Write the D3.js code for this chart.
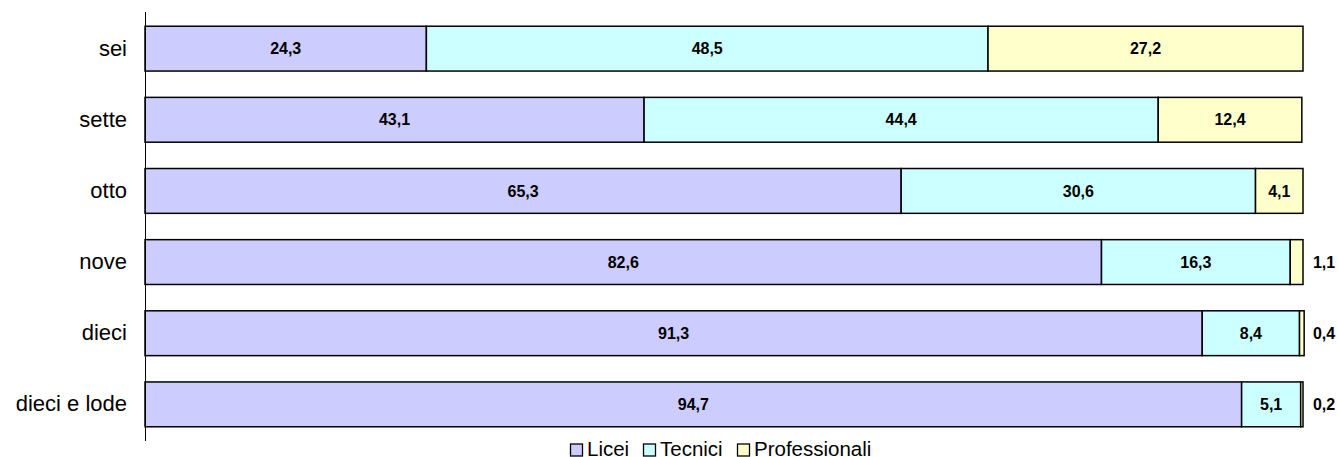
<!DOCTYPE html>
<html>
<head>
<meta charset="utf-8">
<script src="https://cdn.jsdelivr.net/npm/d3@7"></script>
<style>
  html, body { margin: 0; padding: 0; background: #fff; overflow: hidden; }
  svg { display: block; font-family: Arial, "Liberation Sans", sans-serif; }
</style>
</head>
<body>
<svg id="chart" width="1338" height="457"></svg>
<script>
// Voto all'esame: distribuzione per tipo di scuola (%)
const categories = ["sei", "sette", "otto", "nove", "dieci", "dieci e lode"];
const seriesNames = ["Licei", "Tecnici", "Professionali"];
const licei = [24.3, 43.1, 65.3, 82.6, 91.3, 94.7];
const tecnici = [48.5, 44.4, 30.6, 16.3, 8.4, 5.1];
const professionali = [27.2, 12.4, 4.1, 1.1, 0.4, 0.2];
const colors = ["#CCCCFF", "#CCFFFF", "#FFFFCC"];

const rows = categories.map((c, i) => ({
  cat: c, Licei: licei[i], Tecnici: tecnici[i], Professionali: professionali[i]
}));

const svg = d3.select("#chart");
const plotLeft = 145, plotRight = 1303, plotTop = 12, plotBottom = 441;

const x = d3.scaleLinear().domain([0, 100]).range([plotLeft, plotRight]);
const y = d3.scaleBand().domain(categories).range([plotTop, plotBottom]).paddingInner(0.37).paddingOuter(0.2);
const color = d3.scaleOrdinal().domain(seriesNames).range(colors);

const stacked = d3.stack().keys(seriesNames)(rows);
const fmt = v => d3.format(".1f")(v).replace(".", ",");

const layers = svg.append("g").selectAll("g")
  .data(stacked).join("g")
  .attr("fill", d => color(d.key));

layers.selectAll("rect")
  .data(d => d.map(p => ({ key: d.key, p })))
  .join("rect")
  .attr("x", d => x(d.p[0]))
  .attr("y", d => y(d.p.data.cat))
  .attr("width", d => x(d.p[1]) - x(d.p[0]))
  .attr("height", y.bandwidth())
  .attr("stroke", "#000")
  .attr("stroke-width", 1.5);

// value labels: inside the segment, or to the right of the bar when the segment is too narrow
const labels = svg.append("g").attr("font-size", 16).attr("font-weight", "bold").attr("fill", "#000");
stacked.forEach(layer => {
  layer.forEach(p => {
    const v = p.data[layer.key];
    const w = x(p[1]) - x(p[0]);
    const inside = w > 30;
    labels.append("text")
      .attr("x", inside ? (x(p[0]) + x(p[1])) / 2 : plotRight + 21)
      .attr("y", y(p.data.cat) + y.bandwidth() / 2)
      .attr("dy", "0.35em")
      .attr("text-anchor", "middle")
      .text(fmt(v));
  });
});

// category axis
const yAxis = svg.append("g")
  .attr("transform", `translate(${plotLeft},0)`)
  .call(d3.axisLeft(y).tickSize(0).tickPadding(18));
yAxis.select(".domain").attr("stroke", "#000").attr("stroke-width", 1)
  .attr("d", `M0.5,${plotTop}V${plotBottom}`);
yAxis.selectAll("text").attr("font-size", 22).attr("fill", "#000")
  .attr("font-family", "Arial, 'Liberation Sans', sans-serif");

// legend
const legend = svg.append("g").attr("transform", "translate(570,456)");
const legendX = [0, 73, 167];
seriesNames.forEach((s, i) => {
  const g = legend.append("g").attr("transform", `translate(${legendX[i]},0)`);
  g.append("rect").attr("x", 0.5).attr("y", -12).attr("width", 12).attr("height", 12)
    .attr("fill", color(s)).attr("stroke", "#000").attr("stroke-width", 1.3);
  g.append("text").attr("x", 17).attr("font-size", 20.5).attr("fill", "#000").text(s);
});
</script>
</body>
</html>
